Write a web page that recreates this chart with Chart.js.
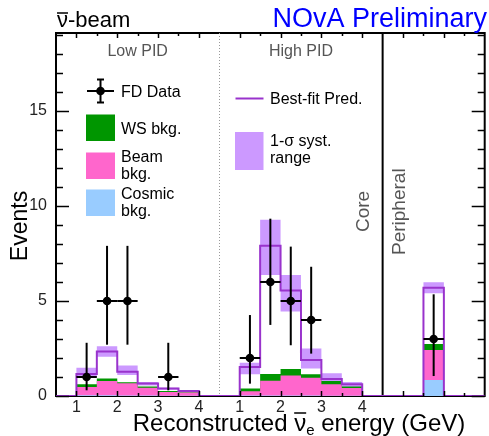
<!DOCTYPE html>
<html>
<head>
<meta charset="utf-8">
<script src="https://cdn.jsdelivr.net/npm/chart.js@4.4.1/dist/chart.umd.min.js"></script>
<style>
  html, body { margin: 0; padding: 0; background: #fff; }
  #wrap { position: relative; width: 489px; height: 436px; }
</style>
</head>
<body>
<div id="wrap"><canvas id="chart"></canvas></div>
<script>
// Bin layout: 0.5 GeV bins, Low PID panel at its own GeV values,
// High PID panel shifted 4 units right, one peripheral bin after that.
var binWidth = 0.5;
var binEdges = [1.0, 1.5, 2.0, 2.5, 3.0, 3.5];
var highShift = 4;
var periEdges = [9.5];
var xMin = 0.5, xMax = 11, yMax = 19.1;

var xTickPos = [1, 2, 3, 4, 5, 6, 7, 8];
var xTickLabels = ["1", "2", "3", "4", "1", "2", "3", "4"];
var yTickVals = [0, 5, 10, 15];

// Low PID
var lowCosmic = [0.04, 0.04, 0.03, 0.02, 0.01, 0.01];
var lowBeam = [0.44, 0.75, 0.64, 0.42, 0.20, 0.17];
var lowWS = [0.14, 0.13, 0.06, 0.06, 0.05, 0.02];
var lowPred = [1.16, 2.34, 1.28, 0.66, 0.39, 0.26];
var lowSystUp = [1.48, 2.62, 1.60, 0.74, 0.44, 0.32];
var lowSystDown = [0.98, 2.06, 1.10, 0.55, 0.33, 0.21];
var lowData = [1, 5, 5, 0, 1, 0];
var lowErrUp = [2.8, 7.9, 7.9, 0, 2.8, 0];
var lowErrDown = [0.3, 2.7, 2.7, 0, 0.3, 0];

// High PID
var highCosmic = [0.02, 0.03, 0.03, 0.02, 0.01, 0.01];
var highBeam = [0.23, 0.77, 1.05, 0.94, 0.61, 0.41];
var highWS = [0.15, 0.36, 0.34, 0.18, 0.17, 0.08];
var highPred = [1.53, 7.90, 5.55, 1.90, 0.90, 0.62];
var highSystUp = [1.75, 9.27, 6.37, 2.50, 1.20, 0.74];
var highSystDown = [1.14, 6.37, 4.45, 1.45, 0.72, 0.48];
var highData = [2, 6, 5, 4, 0, 0];
var highErrUp = [4.26, 9.33, 7.86, 6.8, 0, 0];
var highErrDown = [0.65, 3.74, 2.67, 2.23, 0, 0];

// Peripheral
var periCosmic = [0.84];
var periBeam = [1.58];
var periWS = [0.32];
var periPred = [5.70];
var periSystUp = [5.98];
var periSystDown = [5.40];
var periData = [3];
var periErrUp = [5.35];
var periErrDown = [1.05];

var C = {
  pred: "#9933cc",
  syst: "#cc99ff",
  ws: "#009600",
  beam: "#ff66cc",
  cosmic: "#99ccff",
  font: '"Liberation Sans", Arial, Helvetica, sans-serif'
};

function panel(edges, shift, cosmic, beam, ws, pred, up, down, data, eUp, eDown) {
  return { edges: edges, shift: shift, cosmic: cosmic, beam: beam, ws: ws, pred: pred,
           up: up, down: down, data: data, eUp: eUp, eDown: eDown };
}
var panels = [
  panel(binEdges, 0, lowCosmic, lowBeam, lowWS, lowPred, lowSystUp, lowSystDown, lowData, lowErrUp, lowErrDown),
  panel(binEdges, highShift, highCosmic, highBeam, highWS, highPred, highSystUp, highSystDown, highData, highErrUp, highErrDown),
  panel(periEdges, 0, periCosmic, periBeam, periWS, periPred, periSystUp, periSystDown, periData, periErrUp, periErrDown)
];

// stacked tops: cosmic, cosmic+beam, cosmic+beam+ws
panels.forEach(function (p) {
  p.s1 = p.cosmic.slice();
  p.s2 = p.cosmic.map(function (v, i) { return v + p.beam[i]; });
  p.s3 = p.s2.map(function (v, i) { return v + p.ws[i]; });
});

// step-histogram points; stepped 'before' keeps each value across its bin
function steps(key) {
  var pts = [{ x: xMin, y: 0 }];
  panels.forEach(function (p) {
    p.edges.forEach(function (e, i) { pts.push({ x: e + p.shift, y: p[key][i] }); });
    pts.push({ x: p.edges[p.edges.length - 1] + binWidth + p.shift, y: 0 });
  });
  pts.push({ x: xMax, y: 0 });
  return pts;
}

function dataPoints() {
  var pts = [];
  panels.forEach(function (p) {
    p.data.forEach(function (n, i) {
      if (n > 0) {
        pts.push({ x: p.edges[i] + binWidth / 2 + p.shift, y: n, lo: p.eDown[i], hi: p.eUp[i] });
      }
    });
  });
  return pts;
}

function hist(key, color, order, fill) {
  return {
    data: steps(key), stepped: "before", order: order, pointRadius: 0,
    borderColor: "rgba(0,0,0,0)", borderWidth: 0, backgroundColor: color, fill: fill
  };
}

var datasets = [
  { data: dataPoints(), showLine: false, order: 0, pointRadius: 4.3,
    pointBackgroundColor: "#000", pointBorderWidth: 0 },
  { data: steps("pred"), stepped: "before", order: 1, pointRadius: 0,
    borderColor: C.pred, borderWidth: 2, fill: false },
  hist("s1", C.cosmic, 2, "origin"),
  hist("s2", C.beam, 3, "origin"),
  hist("s3", C.ws, 4, "origin"),
  hist("up", C.syst, 5, "+1"),
  hist("down", "rgba(0,0,0,0)", 6, false)
];

function font(size) { return size + "px " + C.font; }

function rotText(ctx, txt, x, y, align) {
  ctx.save();
  ctx.translate(x, y);
  ctx.rotate(-Math.PI / 2);
  ctx.textAlign = align;
  ctx.fillText(txt, 0, 0);
  ctx.restore();
}

function line(ctx, x1, y1, x2, y2) {
  ctx.beginPath(); ctx.moveTo(x1, y1); ctx.lineTo(x2, y2); ctx.stroke();
}

var decor = {
  id: "decor",
  beforeDatasetsDraw: function (chart) {
    var ctx = chart.ctx, a = chart.chartArea, xs = chart.scales.x;
    ctx.save();
    ctx.strokeStyle = "#000";
    ctx.lineWidth = 2;
    ctx.strokeRect(a.left, a.top, a.right - a.left, a.bottom - a.top);
    // Low/High PID divider (dotted) and Core/Peripheral divider (solid)
    ctx.strokeStyle = "#999";
    ctx.lineWidth = 1;
    ctx.setLineDash([1, 2]);
    var xd = Math.round(xs.getPixelForValue(4.5)) + 0.5;
    line(ctx, xd, a.top, xd, a.bottom);
    ctx.setLineDash([]);
    ctx.strokeStyle = "#000";
    ctx.lineWidth = 2;
    var xc = xs.getPixelForValue(8.5);
    line(ctx, xc, a.top, xc, a.bottom);
    ctx.restore();
  },
  beforeDatasetDraw: function (chart, args) {
    if (args.index !== 0) return;
    var ctx = chart.ctx, xs = chart.scales.x, ys = chart.scales.y;
    ctx.save();
    ctx.strokeStyle = "#000";
    ctx.lineWidth = 2;
    args.meta.data.forEach(function (el, i) {
      var raw = chart.data.datasets[0].data[i];
      line(ctx, el.x, ys.getPixelForValue(raw.lo), el.x, ys.getPixelForValue(raw.hi));
      line(ctx, xs.getPixelForValue(raw.x - binWidth / 2), el.y,
                xs.getPixelForValue(raw.x + binWidth / 2), el.y);
    });
    ctx.restore();
  },
  afterDraw: function (chart) {
    var ctx = chart.ctx, a = chart.chartArea, xs = chart.scales.x, ys = chart.scales.y;
    ctx.save();
    ctx.strokeStyle = "#000";
    ctx.lineWidth = 1.5;
    // inward ticks, ROOT style
    for (var v = 0; v <= 19; v++) {
      var py = Math.round(ys.getPixelForValue(v)) + 0.5;
      var len = v % 5 === 0 ? 13 : 7;
      line(ctx, a.left, py, a.left + len, py);
      line(ctx, a.right, py, a.right - len, py);
    }
    for (var t = 1; t <= 10.5; t += 0.5) {
      if (t === 4.5 || t === 8.5) continue;
      var px = Math.round(xs.getPixelForValue(t)) + 0.5;
      var tl = (t % 1 === 0) ? 5 : 3;
      line(ctx, px, a.bottom, px, a.bottom - tl);
      line(ctx, px, a.top, px, a.top + tl);
    }

    ctx.textBaseline = "alphabetic";
    // header
    ctx.fillStyle = "#000";
    ctx.font = font(22);
    ctx.textAlign = "left";
    ctx.fillText("ν", 57, 27);
    var wn = ctx.measureText("ν").width;
    ctx.lineWidth = 1.5;
    line(ctx, 57, 13, 57 + wn, 13);
    ctx.fillText("-beam", 57 + wn, 27);
    ctx.fillStyle = "#0000ff";
    ctx.font = font(27);
    ctx.textAlign = "right";
    ctx.fillText("NOvA Preliminary", 487, 27);

    // panel labels
    ctx.fillStyle = "#555";
    ctx.font = font(16);
    ctx.textAlign = "center";
    ctx.fillText("Low PID", xs.getPixelForValue(2.5), 56);
    ctx.fillText("High PID", xs.getPixelForValue(6.5), 56);
    ctx.font = font(19);
    rotText(ctx, "Core", 369, 232, "left");
    rotText(ctx, "Peripheral", 405, 255, "left");

    // axis titles
    ctx.fillStyle = "#000";
    ctx.font = font(23);
    rotText(ctx, "Events", 27, 226, "center");
    ctx.font = font(24);
    var p1 = "Reconstructed ", p3 = " energy (GeV)";
    var w1 = ctx.measureText(p1).width, w2 = ctx.measureText("ν").width, w4 = ctx.measureText(p3).width;
    ctx.font = font(15);
    var w3 = ctx.measureText("e").width;
    var x0 = 299 - (w1 + w2 + w3 + w4) / 2, by = 431;
    ctx.textAlign = "left";
    ctx.font = font(24);
    ctx.fillText(p1, x0, by);
    ctx.fillText("ν", x0 + w1, by);
    ctx.lineWidth = 1.5;
    line(ctx, x0 + w1, by - 18, x0 + w1 + w2, by - 18);
    ctx.font = font(15);
    ctx.fillText("e", x0 + w1 + w2, by + 4);
    ctx.font = font(24);
    ctx.fillText(p3, x0 + w1 + w2 + w3, by);

    // legend
    ctx.strokeStyle = "#000";
    ctx.lineWidth = 2;
    line(ctx, 87, 91, 114, 91);
    line(ctx, 100.5, 79.5, 100.5, 102.5);
    line(ctx, 97, 79.5, 104, 79.5);
    line(ctx, 97, 102.5, 104, 102.5);
    ctx.fillStyle = "#000";
    ctx.beginPath(); ctx.arc(100.5, 91, 4.3, 0, 2 * Math.PI); ctx.fill();
    ctx.font = font(16);
    ctx.fillText("FD Data", 121, 97);
    ctx.fillStyle = C.ws; ctx.fillRect(86, 114.5, 29, 26.5);
    ctx.fillStyle = C.beam; ctx.fillRect(86, 152.5, 29, 26.5);
    ctx.fillStyle = C.cosmic; ctx.fillRect(86, 189.5, 29, 26.5);
    ctx.fillStyle = C.syst; ctx.fillRect(235, 132, 28.5, 38);
    ctx.strokeStyle = C.pred;
    line(ctx, 235.5, 98.5, 263.5, 98.5);
    ctx.fillStyle = "#000";
    ctx.fillText("WS bkg.", 121, 133.5);
    ctx.fillText("Beam", 121, 161.5);
    ctx.fillText("bkg.", 121, 178.5);
    ctx.fillText("Cosmic", 121, 198.5);
    ctx.fillText("bkg.", 121, 215.5);
    ctx.fillText("Best-fit Pred.", 270, 104);
    ctx.fillText("1-σ syst.", 270, 146);
    ctx.fillText("range", 270, 163);
    ctx.restore();
  }
};

new Chart(document.getElementById("chart"), {
  type: "line",
  data: { datasets: datasets },
  plugins: [decor],
  options: {
    responsive: true,
    maintainAspectRatio: false,
    animation: false,
    events: [],
    layout: { padding: { top: 33, right: 1, left: 0, bottom: 0 } },
    plugins: { legend: { display: false }, tooltip: { enabled: false } },
    scales: {
      x: {
        type: "linear", min: xMin, max: xMax,
        grid: { display: false, drawTicks: false },
        border: { display: false },
        afterBuildTicks: function (s) { s.ticks = xTickPos.map(function (v) { return { value: v }; }); },
        afterFit: function (s) { s.height = 40; },
        ticks: {
          autoSkip: false, maxRotation: 0, padding: 2, color: "#222",
          font: { family: C.font, size: 16 },
          callback: function (v, i) { return xTickLabels[i]; }
        }
      },
      y: {
        type: "linear", min: 0, max: yMax,
        grid: { display: false, drawTicks: false },
        border: { display: false },
        afterBuildTicks: function (s) { s.ticks = yTickVals.map(function (v) { return { value: v }; }); },
        afterFit: function (s) { s.width = 56; },
        ticks: { padding: 9, color: "#222", font: { family: C.font, size: 16 } }
      }
    }
  }
});
</script>
</body>
</html>
